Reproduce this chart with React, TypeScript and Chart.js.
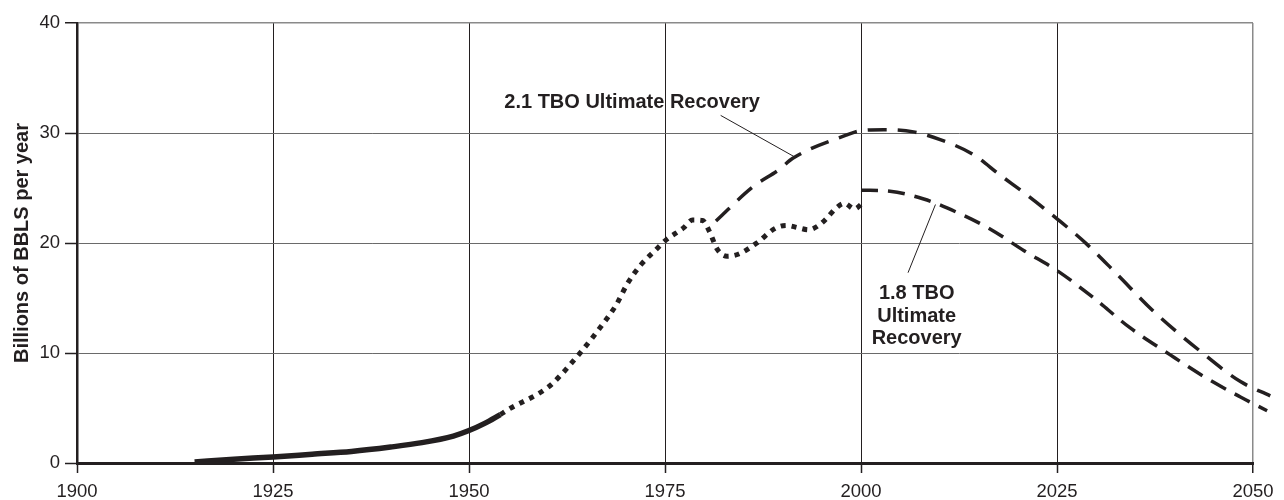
import React, { useEffect, useRef } from 'react';
import { Chart, registerables } from 'chart.js';

Chart.register(...registerables);

const INK = '#231f20';
const FONT_FAMILY = '"Liberation Sans", Arial, Helvetica, sans-serif';

// Axis ranges / tick labels
const X_MIN = 1900;
const X_MAX = 2050;
const X_STEP = 25;
const Y_MIN = 0;
const Y_MAX = 40;
const Y_STEP = 10;
const Y_TITLE = 'Billions of BBLS per year';

// Historic production (solid)
const historicYears = [1915, 1920, 1925, 1930, 1935, 1940, 1944, 1948, 1950, 1952, 1954];
const historicValues = [0.1, 0.35, 0.55, 0.8, 1.05, 1.45, 1.85, 2.45, 2.95, 3.6, 4.4];

// Historic production (dotted)
const dottedYears = [1954, 1955.1, 1959.3, 1960.6, 1964.4, 1967.1, 1968.8, 1970.2, 1971.9, 1974, 1975, 1977.4, 1978.5, 1979.8, 1980.6, 1981.7, 1982.9, 1984.4, 1986.7, 1989.1, 1990.5, 1991.9, 1993.3, 1994.6, 1995.7, 1996.7, 1997.9, 1999.15, 2000.3];
const dottedValues = [4.4, 4.9, 6.5, 7.2, 10.2, 12.66, 14.4, 16.3, 18.0, 19.5, 20.2, 21.4, 22.1, 22.05, 21.15, 19.4, 18.8, 19.0, 20.0, 21.35, 21.6, 21.4, 21.2, 21.6, 22.3, 23.1, 23.6, 23.1, 23.7];

// 2.1 TBO Ultimate Recovery (dashed)
const tbo21Years = [1981.5, 1986.2, 1989.6, 1991.3, 1998.1, 1999.9, 2002.9, 2006.7, 2010.1, 2014.3, 2017.7, 2021.1, 2025, 2028.8, 2032.6, 2037.3, 2043.3, 2048.4, 2052.2];
const tbo21Values = [22.0, 25.1, 26.7, 27.7, 29.8, 30.2, 30.3, 30.1, 29.4, 28.05, 26.2, 24.4, 22.2, 19.9, 17.2, 13.8, 10.15, 7.4, 6.1];

// 1.8 TBO Ultimate Recovery (dashed)
const tbo18Years = [2000, 2003.7, 2008, 2012.2, 2016.4, 2020.8, 2025, 2029.6, 2034.3, 2039.4, 2044.1, 2048.4, 2051.8];
const tbo18Values = [24.8, 24.7, 24.0, 22.8, 21.3, 19.3, 17.5, 15.05, 12.3, 9.85, 7.7, 6.0, 4.75];

// Annotations (in data units)
const label21Text = '2.1 TBO Ultimate Recovery';
const label21At = { x: 1954.5, y: 32.8 };
const leader21 = [{ x: 1982.1, y: 31.6 }, { x: 1991.6, y: 27.8 }];
const label18Lines = ['1.8 TBO', 'Ultimate', 'Recovery'];
const label18Center = { x: 2007.1, ys: [15.4, 13.3, 11.3] };
const leader18 = [{ x: 2006.0, y: 17.3 }, { x: 2009.5, y: 23.5 }];

const pts = (xs: number[], ys: number[]) => xs.map((x, i) => ({ x, y: ys[i] }));

const annotationPlugin = {
  id: 'annotations',
  afterDatasetsDraw(chart: any) {
    const { ctx, scales, chartArea } = chart;
    const x = scales.x;
    const y = scales.y;
    ctx.save();
    ctx.fillStyle = INK;
    ctx.strokeStyle = INK;

    // Leader lines
    ctx.lineWidth = 1;
    for (const seg of [leader21, leader18]) {
      ctx.beginPath();
      ctx.moveTo(x.getPixelForValue(seg[0].x), y.getPixelForValue(seg[0].y));
      ctx.lineTo(x.getPixelForValue(seg[1].x), y.getPixelForValue(seg[1].y));
      ctx.stroke();
    }

    ctx.font = `bold 20px ${FONT_FAMILY}`;
    ctx.textBaseline = 'middle';
    ctx.textAlign = 'left';
    ctx.fillText(label21Text, x.getPixelForValue(label21At.x), y.getPixelForValue(label21At.y));

    ctx.textAlign = 'center';
    label18Lines.forEach((t, i) => {
      ctx.fillText(t, x.getPixelForValue(label18Center.x), y.getPixelForValue(label18Center.ys[i]));
    });

    // Y axis title
    ctx.translate(22, (chartArea.top + chartArea.bottom) / 2);
    ctx.rotate(-Math.PI / 2);
    ctx.textAlign = 'center';
    ctx.textBaseline = 'middle';
    ctx.fillText(Y_TITLE, 0, 0);
    ctx.restore();
  },
};

export default function App() {
  const ref = useRef<HTMLCanvasElement>(null);

  useEffect(() => {
    document.body.style.margin = '0';
    const canvas = ref.current!;
    const tickFont = { family: FONT_FAMILY, size: 18.5 };
    const chart = new Chart(canvas, {
      type: 'line',
      data: {
        datasets: [
          {
            label: 'Historic',
            data: pts(historicYears, historicValues),
            borderColor: INK,
            borderWidth: 5.5,
            pointRadius: 0,
            tension: 0.4,
            cubicInterpolationMode: 'monotone',
            borderCapStyle: 'butt',
          },
          {
            label: 'Historic (dotted)',
            data: pts(dottedYears, dottedValues),
            borderColor: INK,
            borderWidth: 5,
            borderDash: [5, 6],
            pointRadius: 0,
            tension: 0.4,
            cubicInterpolationMode: 'monotone',
            borderCapStyle: 'butt',
          },
          {
            label: '2.1 TBO Ultimate Recovery',
            data: pts(tbo21Years, tbo21Values),
            borderColor: INK,
            borderWidth: 3.5,
            borderDash: [19, 11],
            pointRadius: 0,
            tension: 0.4,
            cubicInterpolationMode: 'monotone',
            clip: false,
          },
          {
            label: '1.8 TBO Ultimate Recovery',
            data: pts(tbo18Years, tbo18Values),
            borderColor: INK,
            borderWidth: 3.5,
            borderDash: [17, 10],
            pointRadius: 0,
            tension: 0.4,
            cubicInterpolationMode: 'monotone',
            clip: false,
          },
        ],
      } as any,
      options: {
        animation: false,
        responsive: false,
        devicePixelRatio: 1,
        layout: { padding: { left: 0, top: 23, right: 31, bottom: 0 } },
        plugins: { legend: { display: false }, tooltip: { enabled: false } },
        scales: {
          x: {
            type: 'linear',
            min: X_MIN,
            max: X_MAX,
            ticks: {
              stepSize: X_STEP,
              font: tickFont,
              color: INK,
              padding: 8,
              maxRotation: 0,
              callback: (v: any) => String(v),
            },
            grid: {
              color: (c: any) => (c.index === 6 ? '#8a8a8a' : INK),
              lineWidth: (c: any) => (c.index === 6 ? 1.5 : 1),
              tickLength: 10,
              tickColor: INK,
              tickWidth: 1.5,
            },
            border: { color: INK, width: 3 },
            afterFit: (s: any) => {
              s.height = 37;
            },
          },
          y: {
            type: 'linear',
            min: Y_MIN,
            max: Y_MAX,
            ticks: {
              stepSize: Y_STEP,
              font: tickFont,
              color: INK,
              padding: 5,
              callback: (v: any) => String(v),
            },
            grid: {
              color: (c: any) => (c.index === 4 ? '#8a8a8a' : '#6a6a6a'),
              lineWidth: (c: any) => (c.index === 4 ? 1.5 : 1),
              tickLength: 12,
              tickColor: INK,
              tickWidth: 1.5,
            },
            border: { color: INK, width: 2.5 },
            afterFit: (s: any) => {
              s.width = 77;
            },
          },
        },
      } as any,
      plugins: [annotationPlugin],
    });
    return () => chart.destroy();
  }, []);

  return <canvas ref={ref} width={1284} height={500} style={{ display: 'block', width: 1284, height: 500 }} />;
}
